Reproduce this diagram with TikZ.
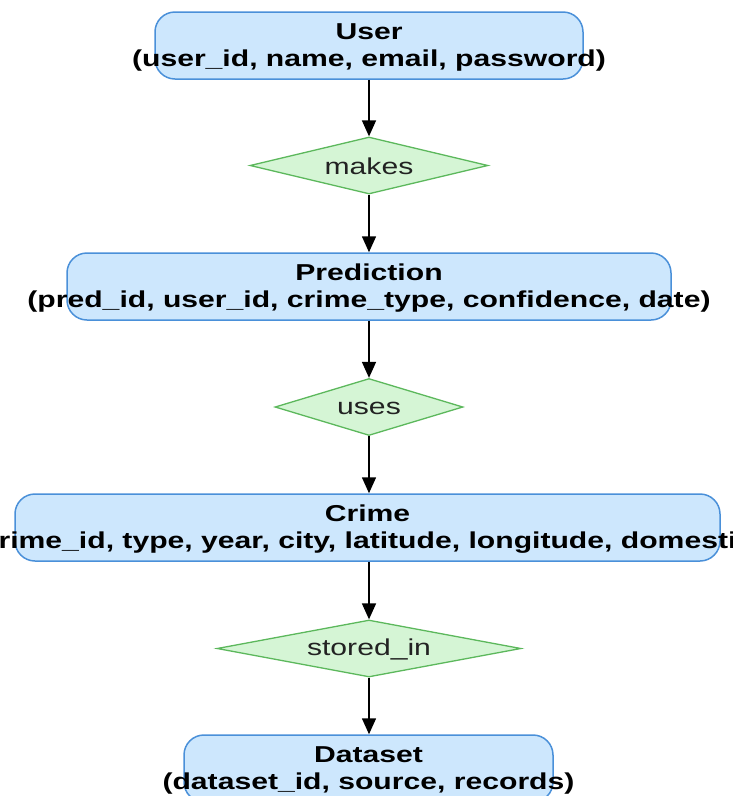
\documentclass[tikz,border=0pt]{standalone}
\usepackage{fontspec}
\setmainfont{Liberation Sans}
\newfontfamily\erfont[FakeStretch=1.31]{Liberation Sans}
\usetikzlibrary{shapes.geometric,arrows.meta}
\definecolor{entityfill}{HTML}{CDE7FD}
\definecolor{entityline}{HTML}{4A90D9}
\definecolor{relfill}{HTML}{D5F5D5}
\definecolor{relline}{HTML}{5CB85C}
\definecolor{reltext}{HTML}{222222}
\tikzset{
  entity/.style={draw=entityline, fill=entityfill, line width=1.5pt,
    rounded corners=20pt, minimum height=67pt, inner sep=0pt},
  relation/.style={diamond, draw=relline, fill=relfill, line width=1.3pt,
    minimum height=57pt, inner sep=0pt},
  entitytext/.style={align=center, inner sep=0pt, text=black,
    font=\erfont\bfseries\fontsize{23}{27}\selectfont},
  relationtext/.style={inner sep=0pt, text=reltext,
    font=\erfont\fontsize{23}{27}\selectfont},
  link/.style={draw=black, line width=1.6pt,
    -{Triangle[length=16pt,width=14pt]}}
}
\begin{document}
\begin{tikzpicture}[x=1pt,y=-1pt]
  \useasboundingbox (0,0) rectangle (733,796);
  \fill[white] (0,0) rectangle (733,796);
  \clip (0,0) rectangle (733,796);

  % entities
  \node[entity, minimum width=428pt] (user) at (369,45.5) {};
  \node[entitytext] (usertxt) at ([yshift=-1.5pt]user.center)
    {User\\(user\_id, name, email, password)};

  \node[entity, minimum width=604pt] (pred) at (369,286.5) {};
  \node[entitytext] (predtxt) at ([yshift=-1.5pt]pred.center)
    {Prediction\\(pred\_id, user\_id, crime\_type, confidence, date)};

  \node[entity, minimum width=705pt] (crime) at (367.5,527.5) {};
  \node[entitytext] (crimetxt) at ([yshift=-1.5pt]crime.center)
    {Crime\\(crime\_id, type, year, city, latitude, longitude, domestic)};

  \node[entity, minimum width=369pt] (dataset) at (368.5,768.5) {};
  \node[entitytext] (datasettxt) at ([yshift=-1.5pt]dataset.center)
    {Dataset\\(dataset\_id, source, records)};

  % relationships
  \node[relation, minimum width=238pt] (makes) at (369,165.5) {};
  \node[relationtext] (makestxt) at ([yshift=-1pt]makes.center) {makes};

  \node[relation, minimum width=188pt] (uses) at (369,407) {};
  \node[relationtext] (usestxt) at ([yshift=-1pt]uses.center) {uses};

  \node[relation, minimum width=304pt] (stored) at (369,648.5) {};
  \node[relationtext] (storedtxt) at ([yshift=-1pt]stored.center) {stored\_in};

  % connectors
  \draw[link] (user.south -| makes.north) -- (makes.north);
  \draw[link] (makes.south) -- (pred.north -| makes.south);
  \draw[link] (pred.south -| uses.north) -- (uses.north);
  \draw[link] (uses.south) -- (crime.north -| uses.south);
  \draw[link] (crime.south -| stored.north) -- (stored.north);
  \draw[link] (stored.south) -- (dataset.north -| stored.south);
\end{tikzpicture}
\end{document}
